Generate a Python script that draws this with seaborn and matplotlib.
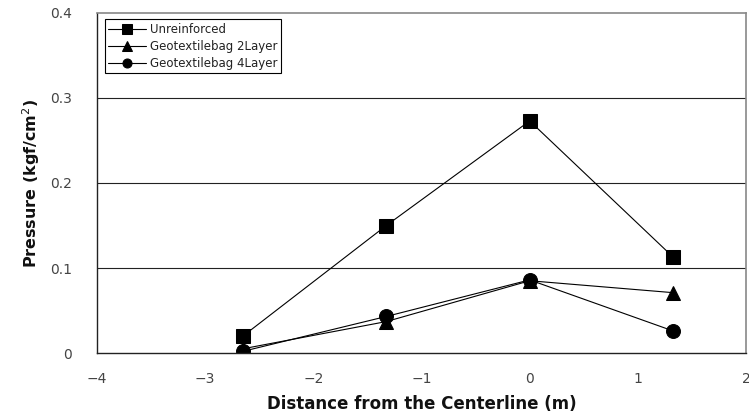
import matplotlib
matplotlib.use("Agg")
import matplotlib.pyplot as plt
import seaborn as sns
import pandas as pd

distance = [-2.65, -1.325, 0.0, 1.325]
unreinforced = [0.020, 0.150, 0.273, 0.113]
geo2 = [0.005, 0.037, 0.085, 0.071]
geo4 = [0.002, 0.043, 0.086, 0.026]
series_names = ["Unreinforced", "Geotextilebag 2Layer", "Geotextilebag 4Layer"]
x_ticks = [-4, -3, -2, -1, 0, 1, 2]
y_ticks = [0, 0.1, 0.2, 0.3, 0.4]

sns.set_theme(style="white")
plt.rcParams['font.family'] = ['DejaVu Sans']

rows = []
for name, vals in zip(series_names, [unreinforced, geo2, geo4]):
    for x, y in zip(distance, vals):
        rows.append({"Distance": x, "Pressure": y, "Series": name})
df = pd.DataFrame(rows)

fig = plt.figure(figsize=(7.49, 4.19), dpi=100)
ax = fig.add_axes([0.1295, 0.1575, 0.9665 - 0.1295 + 0.0295, 0.969 - 0.1575])

markers = {"Unreinforced": "s", "Geotextilebag 2Layer": "^", "Geotextilebag 4Layer": "o"}
sns.lineplot(data=df, x="Distance", y="Pressure", style="Series", markers=markers,
             dashes=False, color="black", linewidth=0.8, markersize=10,
             markeredgecolor="black", ax=ax, legend=True, sort=False)

ax.set_xlim(-4, 2)
ax.set_ylim(0, 0.4)
ax.set_xticks(x_ticks)
ax.set_yticks(y_ticks)
ax.set_xticklabels(["\u22124", "\u22123", "\u22122", "\u22121", "0", "1", "2"])
ax.set_yticklabels(["0", "0.1", "0.2", "0.3", "0.4"])
ax.tick_params(axis="x", direction="in", length=4, width=0.8, colors="#222222",
               labelsize=10, pad=14, labelcolor="#444444")
ax.tick_params(axis="y", direction="in", length=0, labelsize=10, pad=18, labelcolor="#444444")
for yv in [0.1, 0.2, 0.3]:
    ax.axhline(yv, color="#222222", linewidth=0.8, zorder=0)

for side in ["left", "bottom"]:
    ax.spines[side].set_color("#222222")
    ax.spines[side].set_linewidth(1.0)
for side in ["top", "right"]:
    ax.spines[side].set_color("#888888")
    ax.spines[side].set_linewidth(1.2)

ax.set_xlabel("Distance from the Centerline (m)", fontsize=12, fontweight="bold",
              labelpad=6, color="#111111")
ax.set_ylabel("Pressure (kgf/cm$^2$)", fontsize=11.5, fontweight="bold", labelpad=6,
              color="#111111")

leg = ax.legend(loc="upper left", bbox_to_anchor=(0.012, 0.982), fontsize=8.5,
                frameon=True, fancybox=False, edgecolor="black", borderpad=0.3,
                labelspacing=0.35, handlelength=3.2, handletextpad=0.3, markerscale=0.65,
                borderaxespad=0)
leg.get_frame().set_linewidth(0.8)
leg.get_frame().set_alpha(1)
for t in leg.get_texts():
    t.set_color("#222222")

fig.savefig("out.png", dpi=100)
